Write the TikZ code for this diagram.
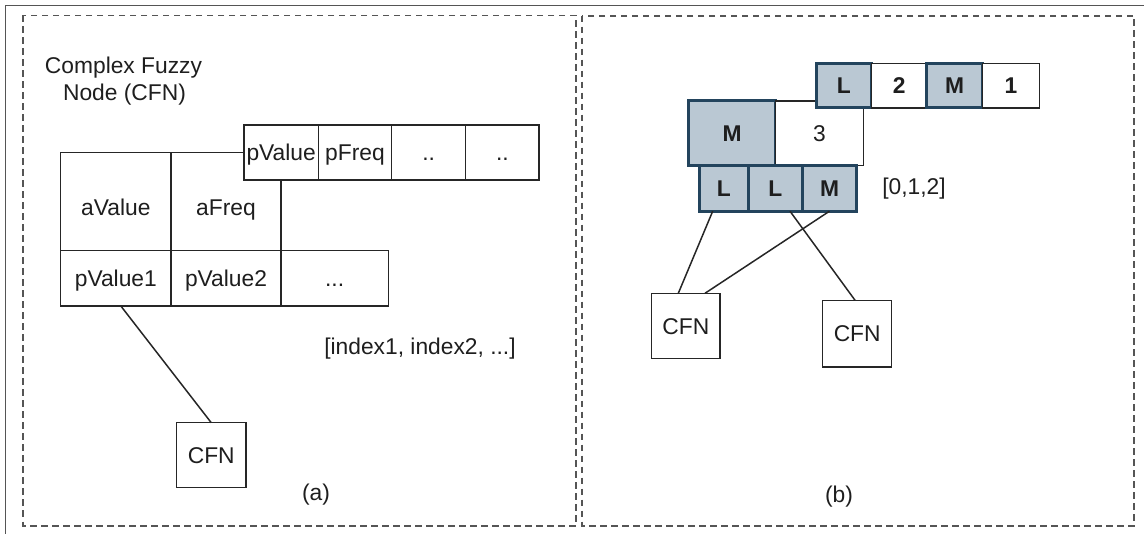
\documentclass[tikz,border=0pt]{standalone}
\usepackage{fontspec}
\setmainfont{Liberation Sans}
\definecolor{ltblue}{HTML}{BAC8D3}
\definecolor{dkblue}{HTML}{23445D}
\definecolor{txt}{HTML}{1E1E1E}
\definecolor{frame}{HTML}{555555}
\tikzset{
  fnt/.style={font=\fontsize{22.8}{26}\selectfont},
  cell/.style={draw=black!85, line width=1.5pt, fill=white, inner sep=0pt, outer sep=0pt,
    anchor=north west, text height=16.3pt, text depth=0pt, text=txt, fnt},
  bcell/.style={cell, draw=dkblue, fill=ltblue, line width=3pt, font=\fontsize{22.8}{26}\selectfont\bfseries},
  boldcell/.style={cell, font=\fontsize{22.8}{26}\selectfont\bfseries},
  cfnbox/.style={draw=black!85, line width=1.5pt, fill=white, inner sep=0pt, outer sep=0pt,
    text height=16.3pt, text depth=0pt, text=txt, fnt},
  lbl/.style={inner sep=0pt, outer sep=0pt, text height=16.3pt, text depth=0pt, text=txt, fnt},
  panel/.style={draw=frame, line width=1.9pt, dash pattern=on 6.5pt off 4.5pt},
  link/.style={draw=black!85, line width=1.5pt},
}
\begin{document}
\begin{tikzpicture}[x=1pt,y=-1pt]
\useasboundingbox (0,0) rectangle (1144,534);
% outer frame lines
\draw[frame, line width=1.5pt] (5.5,534) -- (5.5,5.7) -- (1144,5.7);
% panels
\draw[panel] (23.3,15.5) rectangle (576,525.7);
\draw[panel] (582,15.7) rectangle (1134,525.7);

% ---------- panel (a) ----------
\node[lbl, anchor=base] (title1) at (123.5,74) {Complex Fuzzy};
\node[lbl, anchor=base] (title2) at (124.5,100.7) {Node (CFN)};

\node[cell, minimum width=110.3pt, minimum height=98pt] (aval) at (60.7,152.7) {\raisebox{-6pt}{aValue}};
\node[cell, minimum width=110pt, minimum height=98pt] (afreq) at (171,152.7) {\raisebox{-6pt}{aFreq}};
\node[cell, minimum width=110.3pt, minimum height=55.3pt] (pv1) at (60.7,250.7) {pValue1};
\node[cell, minimum width=110pt, minimum height=55.3pt] (pv2) at (171,250.7) {pValue2};
\node[cell, minimum width=107.3pt, minimum height=55.3pt] (pv3) at (281,250.7) {...};

\node[cell, minimum width=74.3pt, minimum height=55pt] (pval) at (244,125) {pValue};
\node[cell, minimum width=73.4pt, minimum height=55pt] (pfreq) at (318.3,125) {pFreq};
\node[cell, minimum width=74pt, minimum height=55pt] (pd1) at (391.7,125) {..};
\node[cell, minimum width=73.3pt, minimum height=55pt] (pd2) at (465.7,125) {..};

\node[lbl] (idx) at (420,346.7) {[index1, index2, ...]};
\node[cfnbox, minimum width=69.5pt, minimum height=65pt] (cfna) at (211.25,455.2) {CFN};
\draw[link] ([xshift=5pt]pv1.south) -- (cfna.north);
\node[lbl] (capa) at (316,492.5) {(a)};

% ---------- panel (b) ----------
\node[bcell, minimum width=87.4pt, minimum height=64.5pt] (mbig) at (688.3,101) {M};
\node[cell, minimum width=87.6pt, minimum height=64.5pt] (three) at (775.7,101) {3};

\node[bcell, minimum width=55.7pt, minimum height=44.7pt] (ltop) at (816,63.3) {L};
\node[boldcell, minimum width=55pt, minimum height=44.7pt] (two) at (871.7,63.3) {2};
\node[bcell, minimum width=56pt, minimum height=44.7pt] (mtop) at (926.7,63.3) {M};
\node[boldcell, minimum width=56.6pt, minimum height=44.7pt] (one) at (982.7,63.3) {1};

\node[bcell, minimum width=48.8pt, minimum height=45.2pt] (bl1) at (699.5,166) {L};
\node[bcell, minimum width=54pt, minimum height=45.2pt] (bl2) at (748.3,166) {L};
\node[bcell, minimum width=54.4pt, minimum height=45.2pt] (bm3) at (802.3,166) {M};

\node[lbl] (idxb) at (914,186.7) {[0,1,2]};

\node[cfnbox, minimum width=68.5pt, minimum height=65.4pt] (cfn1) at (685.8,326) {CFN};
\node[cfnbox, minimum width=69pt, minimum height=66.4pt] (cfn2) at (857.2,333.7) {CFN};

\draw[link] ([xshift=-11.2pt]bl1.south) -- ([xshift=-7.5pt]cfn1.north);
\draw[link] (bm3.south) -- ([xshift=19.2pt]cfn1.north);
\draw[link] ([xshift=14.7pt]bl2.south) -- ([xshift=-2pt]cfn2.north);

\node[lbl] (capb) at (839,494.5) {(b)};
\end{tikzpicture}
\end{document}
